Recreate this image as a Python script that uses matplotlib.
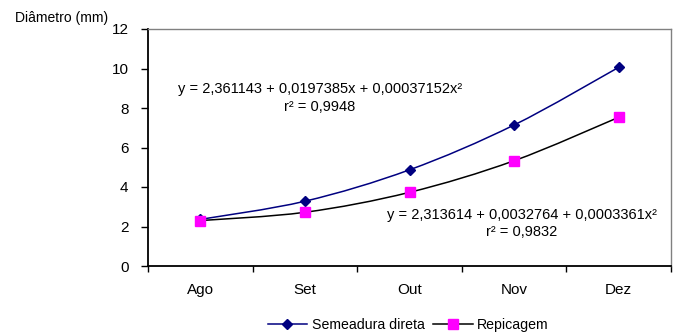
import matplotlib
matplotlib.use("Agg")
import matplotlib.pyplot as plt
from matplotlib.path import Path
from matplotlib.patches import PathPatch
from matplotlib.lines import Line2D

plt.rcParams['font.family'] = ['Liberation Sans', 'DejaVu Sans']

meses = ["Ago", "Set", "Out", "Nov", "Dez"]
semeadura = [2.36, 3.28, 4.87, 7.14, 10.06]
repicagem = [2.30, 2.72, 3.73, 5.33, 7.53]
yticks = [0, 2, 4, 6, 8, 10, 12]

fig = plt.figure(figsize=(6.76, 3.34), dpi=100)
ax = fig.add_axes([148/676, 1-266/334, (671-148)/676, (266-29)/334])

x = list(range(len(meses)))


def smooth_path(xs, ys):
    # Catmull-Rom style cubic Bezier through the data points (Excel "smoothed line")
    n = len(xs)
    verts = [(xs[0], ys[0])]
    codes = [Path.MOVETO]
    for i in range(n - 1):
        x0, y0 = (xs[i - 1], ys[i - 1]) if i > 0 else (xs[i], ys[i])
        x1, y1 = xs[i], ys[i]
        x2, y2 = xs[i + 1], ys[i + 1]
        x3, y3 = (xs[i + 2], ys[i + 2]) if i + 2 < n else (x2, y2)
        c1 = (x1 + (x2 - x0) / 6, y1 + (y2 - y0) / 6)
        c2 = (x2 - (x3 - x1) / 6, y2 - (y3 - y1) / 6)
        verts += [c1, c2, (x2, y2)]
        codes += [Path.CURVE4] * 3
    return Path(verts, codes)


ax.add_patch(PathPatch(smooth_path(x, semeadura), fill=False, ec="#000080", lw=1.1, zorder=3))
ax.add_patch(PathPatch(smooth_path(x, repicagem), fill=False, ec="black", lw=1.1, zorder=3))
ax.plot(x, semeadura, ls='none', marker="D", ms=5, mfc="#000080", mec="#000080", zorder=4)
ax.plot(x, repicagem, ls='none', marker="s", ms=7, mfc="#FF00FF", mec="#FF00FF", zorder=5)

ax.set_xlim(-0.5, 4.5)
ax.set_ylim(0, 12)
ax.set_yticks(yticks)
ax.set_yticklabels([str(v) for v in yticks], fontsize=11)
ax.set_xticks(x)
ax.set_xticklabels(meses, fontsize=11)
ax.set_xticks([i - 0.5 for i in range(len(meses) + 1)], minor=True)
ax.tick_params(axis='x', which='major', length=0, pad=12)
ax.tick_params(axis='x', which='minor', length=4, direction='out', width=1)
ax.tick_params(axis='y', length=5, direction='out', width=1, pad=9)

for s in ['top', 'right']:
    ax.spines[s].set_color('#808080')
    ax.spines[s].set_linewidth(1)
for s in ['left', 'bottom']:
    ax.spines[s].set_color('black')
    ax.spines[s].set_linewidth(1.3)

fig.text(15/676, 1-18/334, "Diâmetro (mm)", fontsize=10, va='center', ha='left')

ax.text(1.144, 8.5, "y = 2,361143 + 0,0197385x + 0,00037152x²\nr² = 0,9948",
        fontsize=10.5, ha='center', va='center', linespacing=1.3)
ax.text(3.075, 2.15, "y = 2,313614 + 0,0032764 + 0,0003361x²\nr² = 0,9832",
        fontsize=10.5, ha='center', va='center', linespacing=1.3)

handles = [
    Line2D([], [], color="#000080", lw=1.1, marker="D", ms=5, mfc="#000080", mec="#000080"),
    Line2D([], [], color="black", lw=1.1, marker="s", ms=7, mfc="#FF00FF", mec="#FF00FF"),
]
fig.legend(handles, ["Semeadura direta", "Repicagem"], loc='center',
           bbox_to_anchor=(408/676, 1-325/334), ncol=2,
           frameon=False, fontsize=10.2, handlelength=2.8, columnspacing=0.6,
           handletextpad=0.3)

fig.savefig("out.png", dpi=100)
